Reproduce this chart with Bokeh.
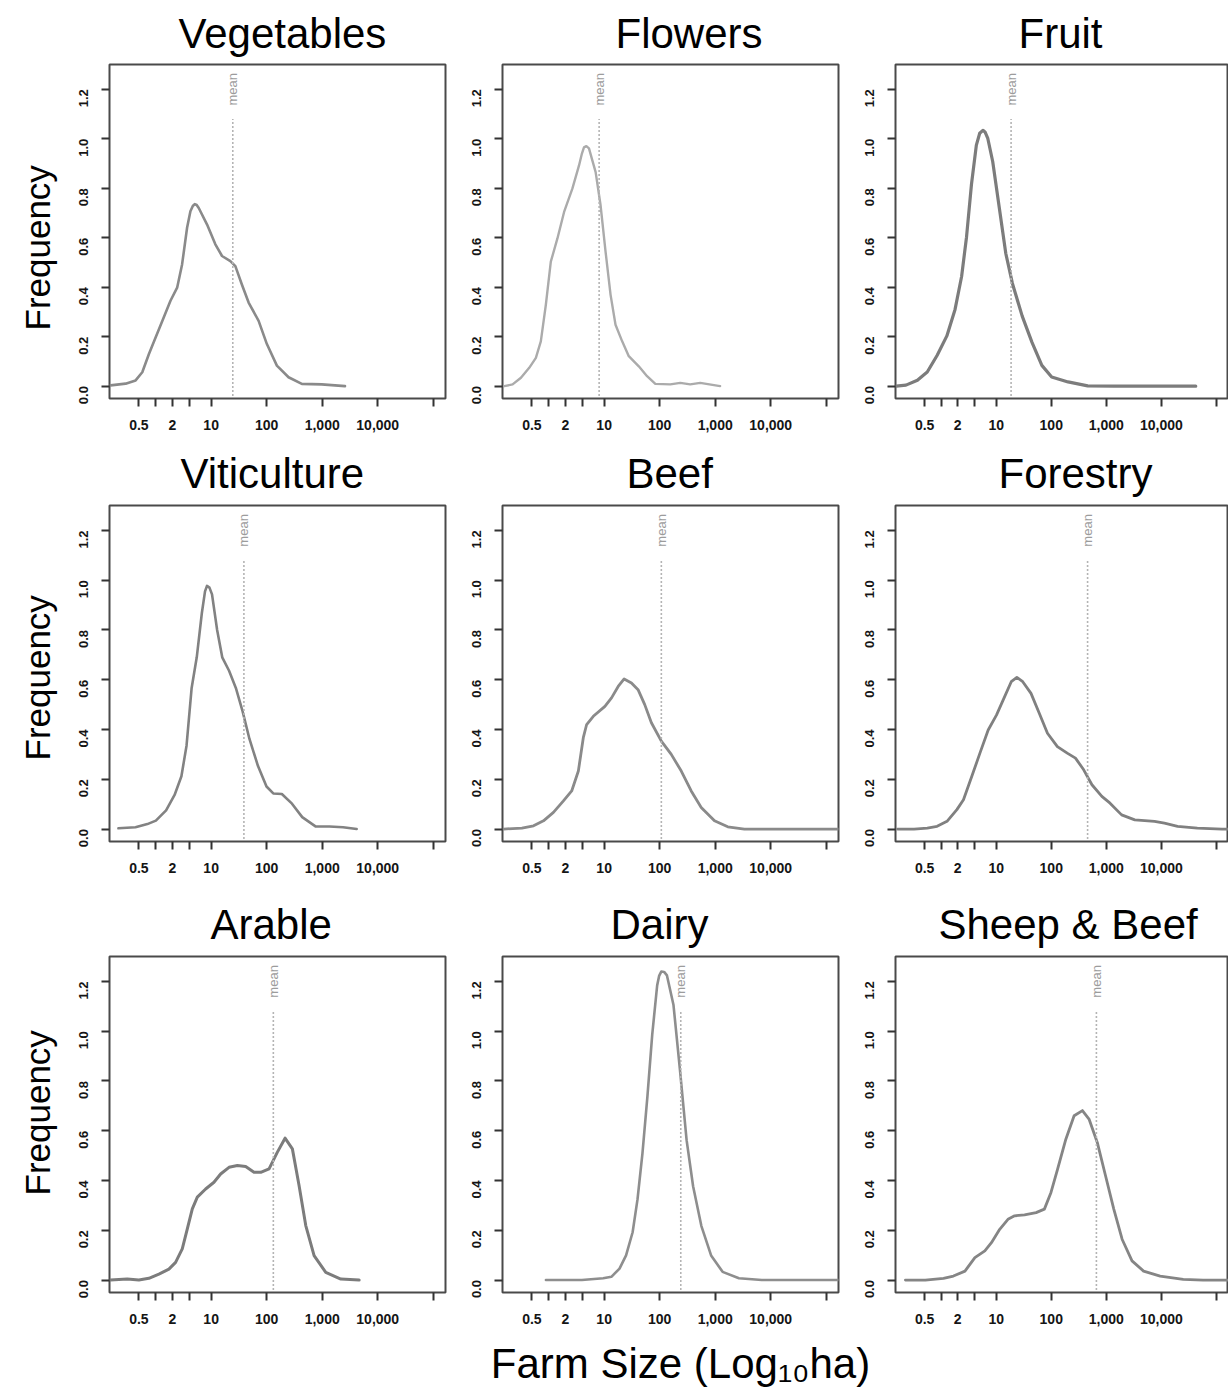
import math
from bokeh.plotting import figure
from bokeh.models import Range1d, FixedTicker, Title, PrintfTickFormatter
from bokeh.layouts import column, row
from bokeh.embed import file_html
from bokeh.resources import INLINE
from bokeh.core.properties import value

# ---------------- data (x = log10 of farm size in ha, y = frequency/density) ----------------
panel_names = ["Vegetables", "Flowers", "Fruit",
               "Viticulture", "Beef", "Forestry",
               "Arable", "Dairy", "Sheep & Beef"]

veg_x = [-0.81, -0.54, -0.36, -0.24, -0.12, 0.0, 0.148, 0.268, 0.388, 0.477, 0.567, 0.627, 0.67,
         0.705, 0.74, 0.777, 0.927, 1.076, 1.196, 1.346, 1.436, 1.555, 1.675, 1.855, 2.004, 2.184,
         2.394, 2.633, 2.99, 3.41]
veg_y = [0.003, 0.01, 0.023, 0.056, 0.13, 0.197, 0.278, 0.345, 0.398, 0.492, 0.64, 0.707, 0.728,
         0.736, 0.732, 0.72, 0.653, 0.573, 0.526, 0.505, 0.485, 0.41, 0.338, 0.264, 0.17, 0.083,
         0.036, 0.009, 0.007, 0.0]

flo_x = [-0.797, -0.648, -0.498, -0.349, -0.229, -0.14, -0.05, 0.04, 0.159, 0.279, 0.428, 0.548,
         0.6, 0.637, 0.68, 0.727, 0.847, 0.936, 1.026, 1.116, 1.205, 1.325, 1.444, 1.624, 1.773,
         1.922, 2.191, 2.371, 2.55, 2.73, 3.088]
flo_y = [0.0, 0.007, 0.034, 0.074, 0.114, 0.181, 0.328, 0.503, 0.597, 0.704, 0.798, 0.892, 0.94,
         0.965, 0.97, 0.961, 0.865, 0.731, 0.543, 0.369, 0.248, 0.181, 0.121, 0.08, 0.04, 0.009,
         0.007, 0.013, 0.007, 0.013, 0.0]

fru_x = [-0.818, -0.64, -0.432, -0.253, -0.075, 0.103, 0.252, 0.371, 0.46, 0.55, 0.639, 0.70,
         0.758, 0.80, 0.847, 0.936, 1.055, 1.174, 1.293, 1.472, 1.65, 1.829, 2.007, 2.305, 2.662,
         3.138, 4.625]
fru_y = [0.0, 0.004, 0.024, 0.057, 0.124, 0.203, 0.31, 0.443, 0.602, 0.815, 0.974, 1.022, 1.034,
         1.026, 1.001, 0.908, 0.722, 0.536, 0.416, 0.283, 0.177, 0.084, 0.037, 0.017, 0.001, 0.0,
         0.0]

vit_x = [-0.669, -0.362, -0.148, 0.005, 0.189, 0.342, 0.465, 0.557, 0.649, 0.741, 0.833, 0.89,
         0.925, 0.97, 1.016, 1.108, 1.2, 1.323, 1.445, 1.568, 1.69, 1.844, 1.997, 2.119, 2.273,
         2.456, 2.64, 2.885, 3.13, 3.375, 3.62]
vit_y = [0.003, 0.007, 0.02, 0.034, 0.075, 0.137, 0.212, 0.335, 0.567, 0.69, 0.868, 0.955, 0.977,
         0.97, 0.943, 0.8, 0.69, 0.636, 0.567, 0.472, 0.362, 0.253, 0.171, 0.143, 0.141, 0.102,
         0.048, 0.01, 0.01, 0.007, 0.0]

bee_x = [-0.809, -0.48, -0.271, -0.092, 0.087, 0.267, 0.416, 0.536, 0.625, 0.685, 0.805, 1.014,
         1.133, 1.253, 1.36, 1.492, 1.611, 1.731, 1.851, 2.03, 2.209, 2.389, 2.568, 2.748, 2.987,
         3.226, 3.525, 5.23]
bee_y = [0.0, 0.004, 0.013, 0.033, 0.067, 0.113, 0.153, 0.233, 0.367, 0.42, 0.453, 0.493, 0.527,
         0.573, 0.603, 0.587, 0.56, 0.5, 0.427, 0.353, 0.3, 0.233, 0.153, 0.087, 0.033, 0.009, 0.0,
         0.0]

for_x = [-0.792, -0.493, -0.253, -0.074, 0.106, 0.285, 0.405, 0.555, 0.704, 0.854, 1.004, 1.153,
         1.273, 1.375, 1.482, 1.632, 1.782, 1.931, 2.111, 2.29, 2.44, 2.589, 2.739, 2.919, 3.068,
         3.278, 3.517, 3.876, 4.056, 4.295, 4.654, 5.103, 5.3]
for_y = [0.0, 0.0, 0.004, 0.011, 0.031, 0.078, 0.118, 0.211, 0.305, 0.398, 0.458, 0.532, 0.592,
         0.609, 0.592, 0.545, 0.465, 0.385, 0.331, 0.305, 0.285, 0.238, 0.178, 0.131, 0.104, 0.057,
         0.037, 0.031, 0.024, 0.011, 0.004, 0.0, 0.0]

ara_x = [-0.812, -0.511, -0.301, -0.121, 0.06, 0.24, 0.36, 0.48, 0.57, 0.661, 0.751, 0.901, 1.051,
         1.171, 1.322, 1.472, 1.622, 1.772, 1.893, 2.043, 2.193, 2.331, 2.463, 2.584, 2.704, 2.854,
         3.064, 3.335, 3.665]
ara_y = [0.0, 0.004, 0.0, 0.007, 0.024, 0.044, 0.071, 0.125, 0.205, 0.286, 0.333, 0.366, 0.393,
         0.426, 0.453, 0.46, 0.456, 0.433, 0.433, 0.447, 0.514, 0.57, 0.527, 0.379, 0.219, 0.098,
         0.031, 0.004, 0.0]

dai_x = [-0.048, 0.6, 0.983, 1.13, 1.277, 1.395, 1.513, 1.601, 1.69, 1.778, 1.866, 1.955, 1.99,
         2.031, 2.08, 2.131, 2.249, 2.367, 2.485, 2.602, 2.75, 2.926, 3.133, 3.427, 3.839, 5.223]
dai_y = [0.0, 0.0, 0.007, 0.013, 0.046, 0.099, 0.192, 0.324, 0.509, 0.734, 0.986, 1.184, 1.222,
         1.24, 1.238, 1.224, 1.105, 0.84, 0.562, 0.377, 0.218, 0.099, 0.033, 0.007, 0.0, 0.0]

shb_x = [-0.65, -0.289, 0.042, 0.222, 0.432, 0.612, 0.793, 0.913, 1.063, 1.213, 1.334, 1.514,
         1.724, 1.875, 1.995, 2.115, 2.265, 2.415, 2.566, 2.686, 2.836, 2.986, 3.136, 3.287, 3.467,
         3.677, 3.978, 4.398, 4.759, 5.3]
shb_y = [0.0, 0.0, 0.007, 0.016, 0.036, 0.09, 0.117, 0.15, 0.204, 0.244, 0.258, 0.262, 0.271,
         0.285, 0.352, 0.446, 0.566, 0.66, 0.681, 0.647, 0.553, 0.419, 0.285, 0.164, 0.077, 0.036,
         0.016, 0.003, 0.0, 0.0]

# mean farm size for each panel (log10 ha)
mean_log = [1.39, 0.91, 1.27, 1.59, 2.03, 2.66, 2.12, 2.38, 2.82]

x_tick_ha = [0.5, 1, 2, 4, 10, 100, 1000, 10000, 100000]
x_tick_text = ["0.5", "", "2", "", "10", "100", "1,000", "10,000", ""]
y_ticks = [0.0, 0.2, 0.4, 0.6, 0.8, 1.0, 1.2]

y_label = "Frequency"
x_label = "Farm Size (Log\u2081\u2080ha)"

series = [(veg_x, veg_y), (flo_x, flo_y), (fru_x, fru_y),
          (vit_x, vit_y), (bee_x, bee_y), (for_x, for_y),
          (ara_x, ara_y), (dai_x, dai_y), (shb_x, shb_y)]

# ---------------- layout / style ----------------
FONT = "Liberation Sans"
curve_colors = ["#8a8a8a", "#ababab", "#7c7c7c", "#828282", "#8a8a8a",
                "#808080", "#7c7c7c", "#8e8e8e", "#858585"]
curve_widths = [2.6, 2.4, 3.2, 2.6, 2.8, 2.8, 3.0, 2.6, 2.8]

col_start = [0, 463, 856]
col_end = [463, 856, 1228]
col_frame_left = [109, 502, 895]
frame_w = [336, 336, 333]
row_start = [0, 436, 886]
row_end = [436, 886, 1334]
row_frame_top = [62, 505, 956]
frame_h = 336

title_offsets = [69, 113, 123, 71, 124, 103, 101, 108, 43]
title_standoff = [15, 18, 18]
ylab_offsets = [68, 81, 97]

X0, X1 = -0.83, 5.22
Y0, Y1 = -0.05, 1.30

rows = []
for r in range(3):
    figs = []
    for c in range(3):
        i = r * 3 + c
        xs, ys = series[i]
        w = col_end[c] - col_start[c]
        h = row_end[r] - row_start[r]
        bl = col_frame_left[c] - col_start[c]
        br = w - bl - frame_w[c]
        bt = row_frame_top[r] - row_start[r]
        bb = h - bt - frame_h
        p = figure(width=w, height=h, x_axis_type="log",
                   x_range=Range1d(10 ** X0, 10 ** X1), y_range=Range1d(Y0, Y1),
                   output_backend="svg", toolbar_location=None,
                   min_border_left=bl, min_border_right=br,
                   min_border_top=bt, min_border_bottom=bb)
        p.background_fill_color = "white"
        p.border_fill_color = "white"
        p.outline_line_color = "#4a4a4a"
        p.outline_line_width = 2
        p.xgrid.visible = False
        p.ygrid.visible = False

        # x axis
        ax = p.xaxis[0]
        ax.ticker = FixedTicker(ticks=x_tick_ha)
        ax.major_label_overrides = {t: s for t, s in zip(x_tick_ha, x_tick_text)}
        ax.axis_line_color = None
        ax.major_tick_line_color = "#333333"
        ax.major_tick_line_width = 2
        ax.major_tick_out = 8
        ax.major_tick_in = 0
        ax.minor_tick_line_color = None
        ax.major_label_text_font = FONT
        ax.major_label_text_font_size = "14px"
        ax.major_label_text_font_style = "bold"
        ax.major_label_text_color = "#151515"
        ax.major_label_standoff = 13

        # y axis
        ay = p.yaxis[0]
        ay.ticker = FixedTicker(ticks=y_ticks)
        ay.formatter = PrintfTickFormatter(format="%.1f")
        ay.major_label_orientation = math.pi / 2
        ay.axis_line_color = None
        ay.major_tick_line_color = "#333333"
        ay.major_tick_line_width = 2
        ay.major_tick_out = 8
        ay.major_tick_in = 0
        ay.minor_tick_line_color = None
        ay.major_label_text_font = FONT
        ay.major_label_text_font_size = "13px"
        ay.major_label_text_font_style = "bold"
        ay.major_label_text_color = "#151515"
        ay.major_label_standoff = 18

        # panel title
        p.title = Title(text=panel_names[i], align="left", offset=title_offsets[i],
                        text_font=FONT, text_font_size="42px", text_font_style="normal",
                        text_color="black", standoff=title_standoff[r])

        if c == 0:
            p.add_layout(Title(text=y_label, align="left", offset=ylab_offsets[r],
                               text_font=FONT, text_font_size="35px",
                               text_font_style="normal", text_color="black",
                               standoff=29), "left")

        # density curve
        p.line(x=[10 ** v for v in xs], y=ys, line_color=curve_colors[i],
               line_width=curve_widths[i], line_join="round", line_cap="round")

        # mean line + label
        m = 10 ** mean_log[i]
        p.segment(x0=[m], y0=[-0.04], x1=[m], y1=[1.08], line_color="#b4b4b4",
                  line_width=1.6, line_dash="2 2")
        p.text(x=[m], y=[1.2], text=["mean"], angle=math.pi / 2,
               text_align="center", text_baseline="middle",
               text_font=value(FONT), text_font_size="13px", text_color="#9c9c9c")
        figs.append(p)
    rows.append(row(*figs, spacing=0))

# shared x-axis caption in a strip below the grid
strip_h = 1388 - row_end[2]
cap = figure(width=1228, height=strip_h, x_range=Range1d(0, 1228), y_range=Range1d(0, strip_h),
             output_backend="svg", toolbar_location=None, min_border=0,
             x_axis_location=None, y_axis_location=None, title_location=None)
cap.grid.visible = False
cap.outline_line_color = None
cap.background_fill_color = "white"
cap.border_fill_color = "white"
cap.text(x=[680], y=[strip_h / 2 - 2], text=[x_label], text_align="center",
         text_baseline="middle", text_font=value(FONT), text_font_size="42px",
         text_color="black")

layout = column(*rows, cap, spacing=0)

open("out.html", "w").write(file_html(layout, INLINE))
